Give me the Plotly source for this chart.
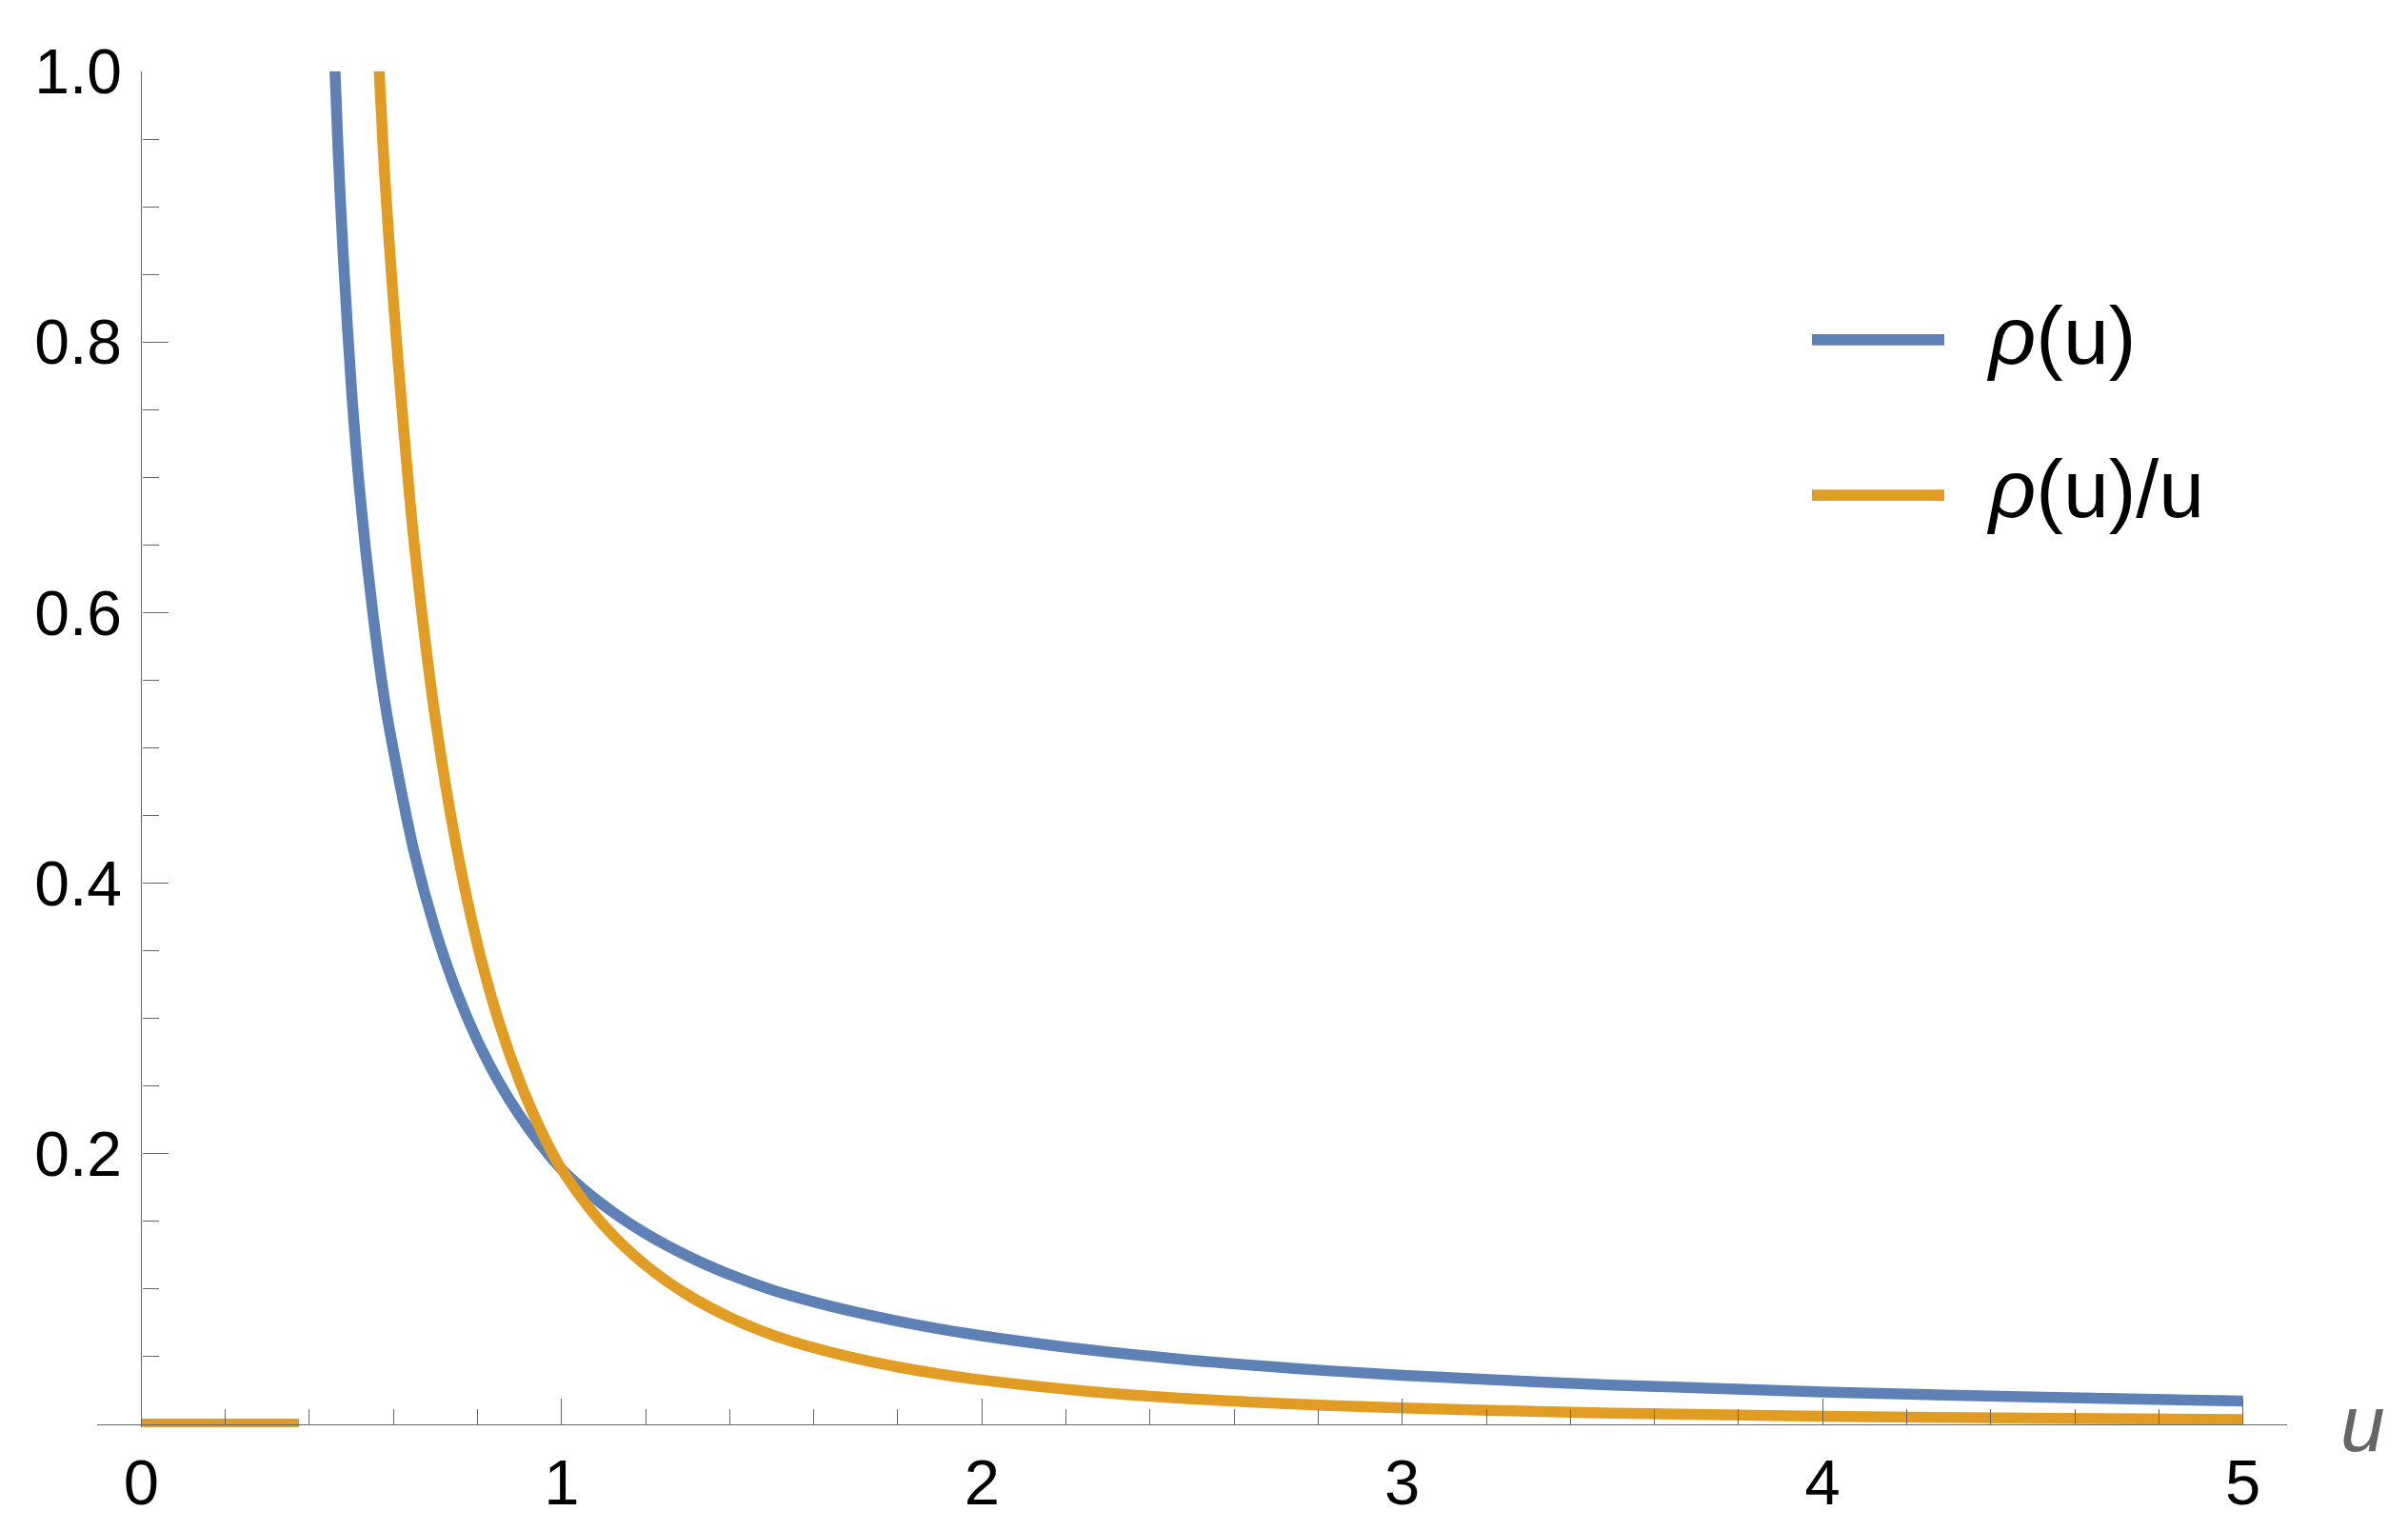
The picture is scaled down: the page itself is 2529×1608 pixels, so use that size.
import plotly.graph_objects as go

# ---------------- data ----------------
u_rho = [0.0, 0.375, None,
         0.450, 0.461, 0.470, 0.480, 0.50, 0.52, 0.55, 0.58, 0.60, 0.65, 0.70,
         0.75, 0.80, 0.85, 0.90, 0.95, 1.00, 1.10, 1.20, 1.30, 1.40, 1.50,
         1.60, 1.70, 1.80, 1.90, 2.00, 2.25, 2.50, 2.75, 3.00, 3.50, 4.00, 4.50, 5.00]
rho = [0.0, 0.0, None,
       1.107, 1.000, 0.930, 0.867, 0.766, 0.689, 0.602, 0.533, 0.498, 0.422, 0.365,
       0.320, 0.2835, 0.2535, 0.2284, 0.207, 0.1886, 0.1619, 0.1411, 0.1244, 0.1107, 0.0994,
       0.0905, 0.0829, 0.0763, 0.0705, 0.0655, 0.0552, 0.04735, 0.04123, 0.03633, 0.02904,
       0.02392, 0.02016, 0.0173]

u_rho_u = [0.0, 0.375, None,
           0.550, 0.560, 0.566, 0.58, 0.60, 0.62, 0.65, 0.70, 0.75, 0.80, 0.85, 0.90,
           0.95, 1.00, 1.10, 1.20, 1.30, 1.40, 1.50, 1.60, 1.70, 1.80, 1.90, 2.00,
           2.25, 2.50, 2.75, 3.00, 3.50, 4.00, 4.50, 5.00]
rho_u = [0.0, 0.0, None,
         1.095, 1.032, 1.000, 0.919, 0.830, 0.752, 0.649, 0.521, 0.4267, 0.3544, 0.2982, 0.2538,
         0.2179, 0.1886, 0.1472, 0.1176, 0.0957, 0.0791, 0.0663, 0.0566, 0.0488, 0.0424, 0.0371,
         0.0328, 0.0245, 0.0189, 0.0150, 0.0121, 0.0083, 0.0060, 0.0045, 0.0035]

series_names = ["<i>ρ</i>(u)", "<i>ρ</i>(u)/u"]
series_colors = ["#5E81B5", "#E19C24"]

x_tick_vals = [0, 1, 2, 3, 4, 5]
x_tick_text = ["0", "1", "2", "3", "4", "5"]
x_minor_vals = [0.2, 0.4, 0.6, 0.8, 1.2, 1.4, 1.6, 1.8, 2.2, 2.4, 2.6, 2.8,
                3.2, 3.4, 3.6, 3.8, 4.2, 4.4, 4.6, 4.8]
y_tick_vals = [0.2, 0.4, 0.6, 0.8, 1.0]
y_tick_text = ["0.2", "0.4", "0.6", "0.8", "1.0"]
y_minor_vals = [0.05, 0.1, 0.15, 0.25, 0.3, 0.35, 0.45, 0.5, 0.55, 0.65, 0.7,
                0.75, 0.85, 0.9, 0.95]

# ---------------- layout constants ----------------
BODY = 8                      # default page margin of the html body
W, H = 2513, 1592
ML, MR, MT, MB = 94, 119, 67, 101
XR = [-0.105, 5.105]
YR = [-0.0021, 1.0]
PW, PH = W - ML - MR, H - MT - MB
AXIS_GRAY = "#666666"
FONT = "Liberation Sans, Arial, sans-serif"
LW = 11.5


def px_x(p):
    """page pixel -> paper fraction (x)"""
    return (p - BODY - ML) / PW


def px_y(p):
    """page pixel -> paper fraction (y)"""
    return (BODY + H - MB - p) / PH


fig = go.Figure()
fig.add_trace(go.Scatter(x=u_rho, y=rho, mode="lines", name=series_names[0],
                         line=dict(color=series_colors[0], width=LW, shape="spline", smoothing=1.0),
                         connectgaps=False, showlegend=False))
fig.add_trace(go.Scatter(x=u_rho_u, y=rho_u, mode="lines", name=series_names[1],
                         line=dict(color=series_colors[1], width=LW, shape="spline", smoothing=1.0),
                         connectgaps=False, showlegend=False))

ypos = (0 - XR[0]) / (XR[1] - XR[0])
xpos = (0 - YR[0]) / (YR[1] - YR[0])

fig.update_layout(
    template="none",
    width=W, height=H,
    margin=dict(l=ML, r=MR, t=MT, b=MB, pad=0, autoexpand=False),
    paper_bgcolor="white", plot_bgcolor="white",
    showlegend=False,
    xaxis=dict(
        range=XR, domain=[0, 1], anchor="free", position=xpos, automargin=False,
        showgrid=False, zeroline=False,
        showline=True, linecolor=AXIS_GRAY, linewidth=1.3,
        tickmode="array", tickvals=x_tick_vals, ticktext=x_tick_text,
        ticks="inside", ticklen=27, tickwidth=1.3, tickcolor=AXIS_GRAY,
        minor=dict(tickmode="array", tickvals=x_minor_vals, ticks="inside",
                   ticklen=16, tickwidth=1.3, tickcolor=AXIS_GRAY, showgrid=False),
        tickfont=dict(family=FONT, size=67, color="black"),
        ticklabelstandoff=2,
    ),
    yaxis=dict(
        range=YR, domain=[0, 1], anchor="free", position=ypos, automargin=False,
        showgrid=False, zeroline=False,
        showline=True, linecolor=AXIS_GRAY, linewidth=1.3,
        tickmode="array", tickvals=y_tick_vals, ticktext=y_tick_text,
        ticks="inside", ticklen=27, tickwidth=1.3, tickcolor=AXIS_GRAY,
        minor=dict(tickmode="array", tickvals=y_minor_vals, ticks="inside",
                   ticklen=17, tickwidth=1.3, tickcolor=AXIS_GRAY, showgrid=False),
        tickfont=dict(family=FONT, size=66, color="black"),
        ticklabelstandoff=7,
    ),
)

# axis label "u"
fig.add_annotation(text="<i>u</i>", xref="paper", yref="paper",
                   x=px_x(2481), y=px_y(1495), xanchor="center", yanchor="middle",
                   showarrow=False, font=dict(family=FONT, size=84, color=AXIS_GRAY))

# legend (drawn manually to match the long line samples)
legend_y_lines = [356.8, 520.2]
legend_y_text = [352, 513]
for name, color, yl, yt in zip(series_names, series_colors, legend_y_lines, legend_y_text):
    fig.add_shape(type="line", xref="paper", yref="paper",
                  x0=px_x(1903), x1=px_x(2042), y0=px_y(yl), y1=px_y(yl),
                  line=dict(color=color, width=11.7))
    fig.add_annotation(text=name, xref="paper", yref="paper",
                       x=px_x(2084), y=px_y(yt), xanchor="left", yanchor="middle",
                       showarrow=False, font=dict(family=FONT, size=86, color="black"))

fig.write_html("out.html")
